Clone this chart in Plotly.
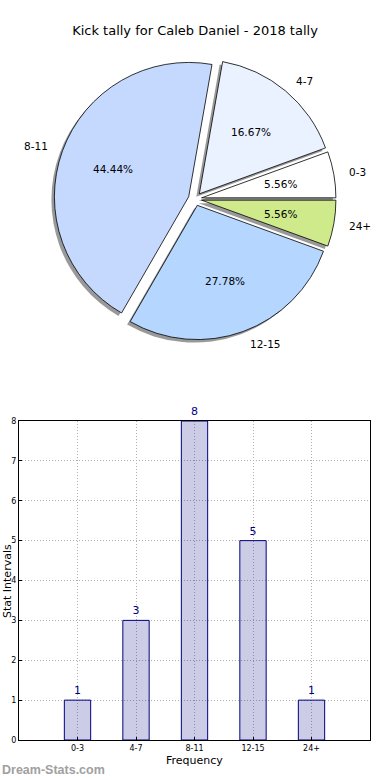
import math
import plotly.graph_objects as go

# ---- data ----
title_text = "Kick tally for Caleb Daniel - 2018 tally"
categories = ["0-3", "4-7", "8-11", "12-15", "24+"]
counts = [1, 3, 8, 5, 1]
pie_colors = ["#ffffff", "#eaf1ff", "#c5d9ff", "#b4d6ff", "#cfea8a"]
pulls = [0.05, 0.05, 0.05, 0.05, 0.05]

W, H = 390, 780

# pie geometry
pie_cx_px, pie_cy_px = 195, 199
pie_h_px = 282
pie_dom_x = [0.05, 0.95]
pie_dom_y = [1 - (pie_cy_px + pie_h_px / 2) / H, 1 - (pie_cy_px - pie_h_px / 2) / H]
sh_dx, sh_dy = 3 / W, 3 / H
r_px = pie_h_px / (2 * (1 + max(pulls)))

fig = go.Figure()

common = dict(labels=categories, values=counts, sort=False,
              direction="counterclockwise", rotation=70, pull=pulls,
              showlegend=False, textinfo="none")

# shadow
fig.add_trace(go.Pie(
    **common,
    marker=dict(colors=["rgba(0,0,0,0.4)"] * len(categories), line=dict(width=0)),
    hoverinfo="skip",
    domain=dict(x=[pie_dom_x[0] - sh_dx, pie_dom_x[1] - sh_dx],
                y=[pie_dom_y[0] - sh_dy, pie_dom_y[1] - sh_dy]),
))
# main pie
fig.add_trace(go.Pie(
    **common,
    marker=dict(colors=pie_colors, line=dict(color="black", width=0.8)),
    domain=dict(x=pie_dom_x, y=pie_dom_y),
))

# slice texts (percent at 0.6 r, label at 1.1 r from the pulled centre)
annotations = []
total = sum(counts)
cum = 0
for lab, v, p in zip(categories, counts, pulls):
    mid = math.radians(360 * (cum + v / 2) / total)
    cum += v
    ox = pie_cx_px + p * r_px * math.cos(mid)
    oy = pie_cy_px - p * r_px * math.sin(mid)
    px_ = ox + 0.6 * r_px * math.cos(mid)
    py_ = oy - 0.6 * r_px * math.sin(mid)
    annotations.append(dict(text=f"{100 * v / total:.2f}%", x=px_ / W, y=1 - py_ / H,
                            xref="paper", yref="paper", xanchor="center", yanchor="middle",
                            showarrow=False, font=dict(size=10.5, color="black")))
    lx = ox + 1.1 * r_px * math.cos(mid)
    ly = oy - 1.1 * r_px * math.sin(mid)
    annotations.append(dict(text=lab, x=lx / W, y=1 - ly / H,
                            xref="paper", yref="paper",
                            xanchor="left" if math.cos(mid) > 0 else "right",
                            yanchor="middle", showarrow=False,
                            font=dict(size=10.5, color="black")))

# bar chart
fig.add_trace(go.Bar(
    x=categories, y=counts, width=0.45,
    marker=dict(color="rgba(0,0,128,0.2)", line=dict(color="#000080", width=1)),
    text=[str(c) for c in counts], textposition="outside", cliponaxis=False,
    textfont=dict(family="DejaVu Sans", size=11, color="#000080"),
    showlegend=False,
))

axis_style = dict(showline=True, mirror=True, linecolor="black", linewidth=1,
                  showgrid=True, gridcolor="#b0b0b0", griddash="1px,2px", gridwidth=1,
                  ticks="inside", ticklen=3, tickcolor="black",
                  tickfont=dict(family="DejaVu Sans", size=8, color="black"),
                  zeroline=False, automargin=False)

annotations += [
    dict(text="Frequency", x=194 / W, y=1 - 760 / H, xref="paper", yref="paper",
         xanchor="center", yanchor="middle",
         showarrow=False, font=dict(size=11, color="black")),
    dict(text="Stat Intervals", x=7 / W, y=1 - 581 / H, xref="paper", yref="paper",
         xanchor="center", yanchor="middle",
         textangle=-90, showarrow=False, font=dict(size=11, color="black")),
    dict(text="Dream-Stats.com", x=0, y=1 - 770 / H, xref="paper", yref="paper",
         xanchor="left", yanchor="middle", showarrow=False,
         font=dict(family="Liberation Sans", size=12.5, weight="bold", color="#a0a0a0")),
]

fig.update_layout(
    width=W, height=H, margin=dict(l=0, r=0, t=0, b=0, autoexpand=False),
    paper_bgcolor="white", plot_bgcolor="white",
    font=dict(family="DejaVu Sans", color="black"),
    title=dict(text=title_text, x=0.5, xref="paper", xanchor="center",
               y=1 - 30 / H, yanchor="middle",
               font=dict(size=13, color="black")),
    xaxis=dict(domain=[19 / W, 370 / W], type="category", range=[-1, 5], **axis_style),
    yaxis=dict(domain=[40 / H, 359 / H], range=[0, 8], dtick=1, **axis_style),
    annotations=annotations,
)

fig.write_html("out.html", config={"displayModeBar": False},
               post_script="document.body.style.margin='0';")
